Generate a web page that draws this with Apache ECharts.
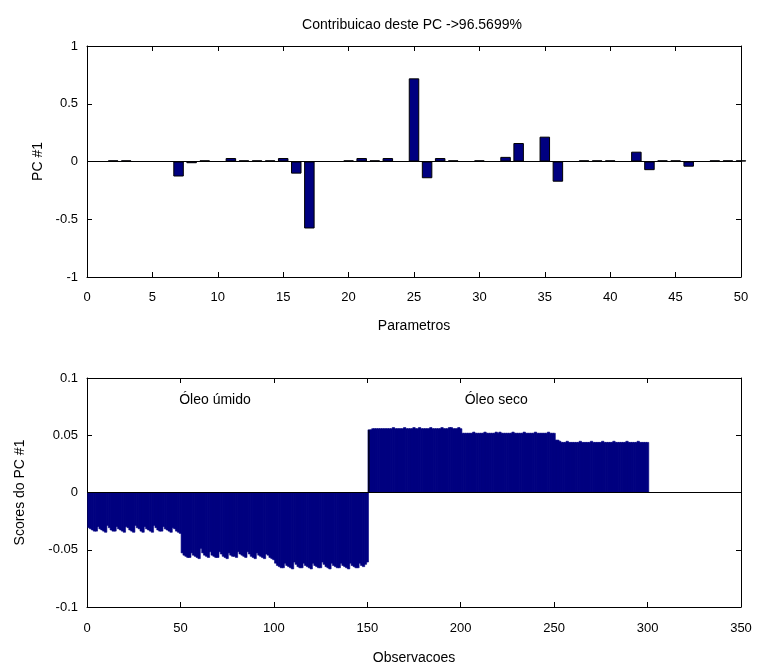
<!DOCTYPE html>
<html>
<head>
<meta charset="utf-8">
<script src="https://cdn.jsdelivr.net/npm/echarts@6/dist/echarts.min.js"></script>
<style>html,body{margin:0;padding:0;background:#fff;}#c{width:761px;height:669px;}</style>
</head>
<body>
<div id="c"></div>
<script>
// ---- Data ----
var titleText = 'Contribuicao deste PC ->96.5699%';
var paramIdx = [];
for (var i = 1; i <= 50; i++) paramIdx.push(i);
var pcLoadings = [
  0, 0.01, 0.01, 0, 0, 0, -0.13, -0.015, 0.01, 0,
  0.03, 0.01, 0.01, 0.01, 0.03, -0.105, -0.58, 0, 0, 0.01,
  0.03, 0.01, 0.03, 0, 0.72, -0.145, 0.03, 0.01, 0, 0.01,
  0, 0.04, 0.16, 0, 0.215, -0.175, 0, 0.01, 0.01, 0.01,
  0, 0.085, -0.075, 0.01, 0.01, -0.045, 0, 0.01, 0.01, 0.01
];
var scoresWet1 = [-0.031,-0.032,-0.033,-0.034,-0.034, -0.030,-0.032,-0.033,-0.034,-0.035, -0.029,-0.031,-0.033,-0.034,-0.034, -0.030,-0.032,-0.033,-0.034,-0.035, -0.030,-0.031,-0.033,-0.034,-0.035, -0.029,-0.031,-0.032,-0.034,-0.035, -0.030,-0.032,-0.033,-0.034,-0.035, -0.029,-0.031,-0.033,-0.034,-0.034, -0.030,-0.032,-0.033,-0.034,-0.035, -0.031,-0.032,-0.034,-0.035,-0.036];
var scoresWet2 = [-0.053,-0.055,-0.056,-0.057,-0.057, -0.053,-0.055,-0.056,-0.057,-0.058, -0.049,-0.053,-0.055,-0.056,-0.057, -0.052,-0.055,-0.056,-0.057,-0.057, -0.052,-0.054,-0.056,-0.057,-0.058, -0.053,-0.055,-0.056,-0.056,-0.057, -0.052,-0.054,-0.055,-0.056,-0.057, -0.052,-0.054,-0.056,-0.057,-0.058, -0.053,-0.055,-0.056,-0.057,-0.058, -0.054,-0.055,-0.057,-0.058,-0.059];
var scoresWet3 = [-0.062,-0.064,-0.065,-0.066,-0.066, -0.062,-0.064,-0.065,-0.066,-0.067, -0.061,-0.063,-0.065,-0.066,-0.066, -0.062,-0.064,-0.065,-0.066,-0.067, -0.062,-0.064,-0.065,-0.066,-0.066, -0.061,-0.063,-0.065,-0.066,-0.067, -0.062,-0.064,-0.065,-0.066,-0.066, -0.062,-0.064,-0.065,-0.066,-0.067, -0.062,-0.064,-0.065,-0.066,-0.066, -0.062,-0.064,-0.065,-0.063,-0.061];
var scoresDry1 = [0.055,0.055,0.056,0.056,0.056, 0.056,0.056,0.056,0.056,0.056, 0.056,0.056,0.056,0.057,0.056, 0.056,0.056,0.056,0.056,0.057, 0.056,0.056,0.056,0.056,0.057, 0.056,0.056,0.057,0.056,0.056, 0.056,0.056,0.056,0.057,0.056, 0.056,0.056,0.056,0.056,0.057, 0.056,0.056,0.056,0.057,0.057, 0.056,0.056,0.056,0.057,0.056];
var scoresDry2 = [0.052,0.052,0.052,0.052,0.052, 0.052,0.053,0.052,0.052,0.052, 0.052,0.052,0.053,0.052,0.052, 0.052,0.052,0.052,0.053,0.052, 0.053,0.052,0.052,0.052,0.052, 0.052,0.052,0.053,0.052,0.052, 0.052,0.052,0.052,0.053,0.052, 0.052,0.052,0.052,0.052,0.053, 0.052,0.052,0.052,0.052,0.052, 0.052,0.053,0.052,0.052,0.052];
var scoresDry3 = [0.046,0.046,0.045,0.044,0.044, 0.044,0.045,0.044,0.044,0.044, 0.044,0.044,0.044,0.045,0.044, 0.044,0.044,0.044,0.044,0.045, 0.044,0.044,0.044,0.044,0.044, 0.045,0.044,0.044,0.044,0.044, 0.044,0.045,0.044,0.044,0.044, 0.044,0.044,0.044,0.045,0.044, 0.044,0.044,0.044,0.044,0.045, 0.044,0.044,0.044,0.044,0.044];
var scores = [].concat(scoresWet1, scoresWet2, scoresWet3, scoresDry1, scoresDry2, scoresDry3);
var groupLabels = [
  { text: 'Óleo úmido', x: 68.5, y: 0.081 },
  { text: 'Óleo seco', x: 219, y: 0.081 }
];

// ---- Chart ----
var FONT = 'Liberation Sans';
var BLUE = '#000080';
var chart = echarts.init(document.getElementById('c'), null, { renderer: 'canvas' });

function ax(extra) {
  var base = {
    axisLine: { show: true, onZero: false, lineStyle: { color: '#000', width: 1 } },
    axisTick: { show: true, inside: true, length: 5, lineStyle: { color: '#000' } },
    axisLabel: { color: '#000', fontFamily: FONT, fontSize: 13 },
    splitLine: { show: false },
    nameTextStyle: { color: '#000', fontFamily: FONT, fontSize: 14 }
  };
  for (var k in extra) base[k] = extra[k];
  return base;
}

var topData = paramIdx.map(function (x, i) { return [x, pcLoadings[i]]; });
var botData = scores.map(function (v, i) {
  var d = { value: [i + 1, v] };
  if (i === 150) d.itemStyle = { color: '#000' };
  return d;
});

var option = {
  animation: false,
  backgroundColor: '#fff',
  grid: [
    { left: 87, top: 46, width: 654, height: 231 },
    { left: 87, top: 378, width: 654, height: 229 }
  ],
  graphic: [{
    type: 'text', x: 412, y: 25,
    style: { text: titleText, fill: '#000', font: '14px ' + FONT, textAlign: 'center', textVerticalAlign: 'middle' }
  }],
  xAxis: [
    ax({ gridIndex: 0, type: 'value', min: 0, max: 50, interval: 5, position: 'bottom',
         name: 'Parametros', nameLocation: 'middle', nameGap: 42,
         axisLabel: { color: '#000', fontFamily: FONT, fontSize: 13, margin: 14 } }),
    ax({ gridIndex: 0, type: 'value', min: 0, max: 50, interval: 5, position: 'top',
         axisLabel: { show: false } }),
    ax({ gridIndex: 1, type: 'value', min: 0, max: 350, interval: 50, position: 'bottom',
         name: 'Observacoes', nameLocation: 'middle', nameGap: 44,
         axisLabel: { color: '#000', fontFamily: FONT, fontSize: 13, margin: 15 } }),
    ax({ gridIndex: 1, type: 'value', min: 0, max: 350, interval: 50, position: 'top',
         axisLabel: { show: false } })
  ],
  yAxis: [
    ax({ gridIndex: 0, type: 'value', min: -1, max: 1, interval: 0.5, position: 'left',
         name: 'PC #1', nameLocation: 'middle', nameGap: 40, nameRotate: 90,
         axisLabel: { color: '#000', fontFamily: FONT, fontSize: 13, margin: 9 } }),
    ax({ gridIndex: 0, type: 'value', min: -1, max: 1, interval: 0.5, position: 'right',
         axisLabel: { show: false } }),
    ax({ gridIndex: 1, type: 'value', min: -0.1, max: 0.1, interval: 0.05, position: 'left',
         name: 'Scores do PC #1', nameLocation: 'middle', nameGap: 60, nameRotate: 90,
         axisLabel: { color: '#000', fontFamily: FONT, fontSize: 13, margin: 9 } }),
    ax({ gridIndex: 1, type: 'value', min: -0.1, max: 0.1, interval: 0.05, position: 'right',
         axisLabel: { show: false } })
  ],
  series: [
    {
      type: 'bar', xAxisIndex: 0, yAxisIndex: 0, data: topData,
      barWidth: 10.5, clip: true,
      itemStyle: { color: BLUE, borderColor: '#000', borderWidth: 1 },
      markLine: {
        silent: true, symbol: 'none', animation: false,
        lineStyle: { color: '#000', type: 'solid', width: 1 },
        label: { show: false },
        data: [{ yAxis: 0 }]
      }
    },
    {
      type: 'bar', xAxisIndex: 2, yAxisIndex: 2, data: botData,
      barWidth: 3, clip: true, large: false,
      itemStyle: { color: BLUE, borderColor: BLUE, borderWidth: 0.6 },
      markLine: {
        silent: true, symbol: 'none', animation: false,
        lineStyle: { color: '#000', type: 'solid', width: 1 },
        label: { show: false },
        data: [{ yAxis: 0 }]
      },
      markPoint: {
        silent: true, symbol: 'rect', symbolSize: 0, animation: false,
        label: { show: true, color: '#000', fontFamily: FONT, fontSize: 14, position: 'inside' },
        data: groupLabels.map(function (g) {
          return { coord: [g.x, g.y], label: { formatter: g.text } };
        })
      }
    }
  ]
};
chart.setOption(option);
</script>
</body>
</html>
